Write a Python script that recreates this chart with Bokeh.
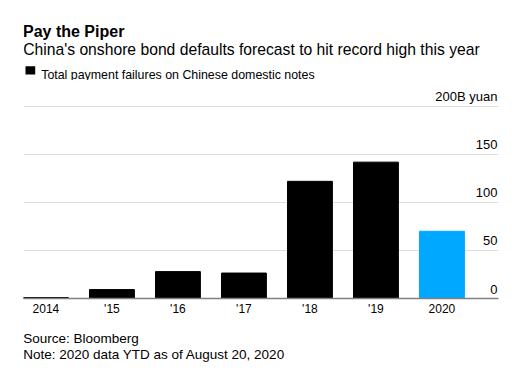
from bokeh.plotting import figure
from bokeh.layouts import column
from bokeh.models import Range1d, FixedTicker, Label, BoxAnnotation, ColumnDataSource
from bokeh.core.properties import value
from bokeh.embed import file_html
from bokeh.resources import INLINE

# ---- data ----
years = [2014, 2015, 2016, 2017, 2018, 2019, 2020]
year_labels = ["2014", "'15", "'16", "'17", "'18", "'19", "2020"]
defaults = [1.0, 9.3, 28, 26.5, 122, 142, 70]
bar_colors = ["#000000"] * 6 + ["#00a8ff"]
y_ticks = [0, 50, 100, 150, 200]
y_tick_labels = ["0", "50", "100", "150", "200B yuan"]

title = "Pay the Piper"
subtitle = "China's onshore bond defaults forecast to hit record high this year"
legend_text = "Total payment failures on Chinese domestic notes"
source_text = "Source: Bloomberg"
note_text = "Note: 2020 data YTD as of August 20, 2020"

FONT = "Liberation Sans"
W = 522


def blank(h):
    f = figure(width=W, height=h, output_backend="svg", toolbar_location=None,
               x_range=Range1d(0, W), y_range=Range1d(0, h),
               min_border=0, min_border_left=0, min_border_right=0,
               min_border_top=0, min_border_bottom=0)
    f.axis.visible = False
    f.grid.visible = False
    f.outline_line_color = None
    return f


def lab(f, txt, x, y_top, size, bold=False):
    f.add_layout(Label(x=x, y=y_top, x_units="canvas", y_units="canvas", text=txt,
                       text_font=FONT, text_font_size=size, text_baseline="alphabetic",
                       text_font_style="bold" if bold else "normal", text_color="#000000"))


# ---- header ----
HH = 80
head = blank(HH)
lab(head, title, 22.5, 30.7, "16px", bold=True)
lab(head, subtitle, 22.7, 49, "15.7px")
lab(head, legend_text, 40.7, 74, "12.4px")
head.add_layout(BoxAnnotation(left=25, right=34.7, top=65.7, bottom=74,
                              left_units="canvas", right_units="canvas",
                              top_units="canvas", bottom_units="canvas",
                              fill_color="#000000", fill_alpha=1, line_color=None))

# ---- main chart ----
p = figure(width=W, height=238, output_backend="svg", toolbar_location=None,
           x_range=Range1d(2013.66, 2020.857), y_range=Range1d(0, 227),
           min_border_left=23, min_border_right=W - 498, min_border_top=0, min_border_bottom=20)
p.outline_line_color = None

src = ColumnDataSource(dict(x=years, top=defaults, color=bar_colors))
p.vbar(x="x", top="top", width=0.68, color="color", source=src)

p.yaxis.visible = False
xa = p.xaxis[0]
xa.ticker = FixedTicker(ticks=years)
xa.major_label_overrides = {y: l for y, l in zip(years, year_labels)}
xa.major_tick_line_color = None
xa.minor_tick_line_color = None
xa.major_tick_out = 0
xa.major_tick_in = 0
xa.minor_tick_out = 0
xa.minor_tick_in = 0
xa.axis_line_color = "#808080"
xa.axis_line_width = 1.5
xa.major_label_text_font = FONT
xa.major_label_text_font_size = "12px"
xa.major_label_text_color = "#000000"
xa.major_label_standoff = 3

p.xgrid.visible = False
p.ygrid.ticker = FixedTicker(ticks=y_ticks)
p.ygrid.grid_line_color = "#dddddd"
p.ygrid.grid_line_width = 1

tsrc = ColumnDataSource(dict(x=[p.x_range.end] * len(y_ticks), y=y_ticks, t=y_tick_labels))
p.text(x="x", y="y", text="t", source=tsrc, text_align="right", text_baseline="alphabetic",
       x_offset=-1, y_offset=-9.5, text_font=value(FONT), text_font_size="13px",
       text_color="#000000")

# ---- footer ----
foot = blank(44)
lab(foot, source_text, 22.7, 19.7, "13.5px")
lab(foot, note_text, 22.7, 36, "13.5px")

layout = column(head, p, foot, spacing=0)
open("out.html", "w").write(file_html(layout, INLINE))
